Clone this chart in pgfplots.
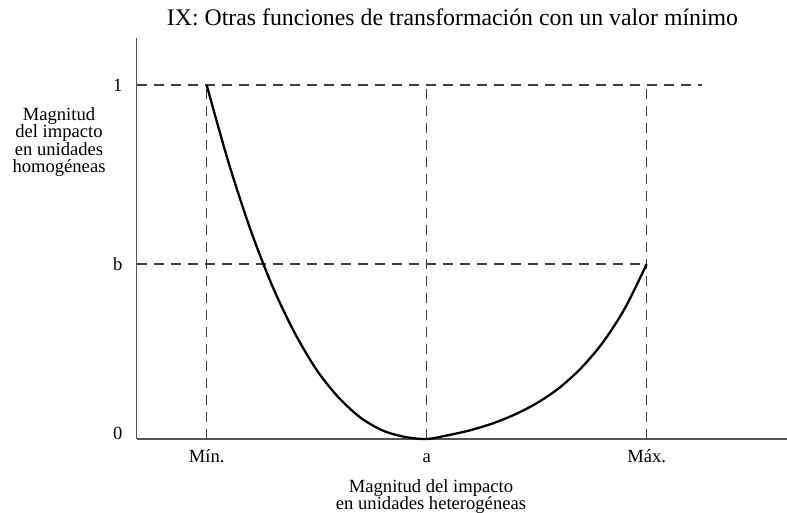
\documentclass[border=0pt]{standalone}
\usepackage{pgfplots}
\pgfplotsset{compat=1.18}
\usepackage{fontspec}
\setmainfont{Liberation Serif}
\definecolor{dashgray}{HTML}{404040}
\definecolor{axgray}{HTML}{555555}
\begin{document}
\begin{tikzpicture}
\useasboundingbox (0,0) rectangle (787bp,513bp);
\begin{axis}[
  at={(136.7bp,74bp)}, anchor=south west,
  scale only axis, width=650.3bp, height=401bp,
  xmin=0.682, xmax=3.638, ymin=0, ymax=1.1328,
  axis x line*=bottom, axis y line*=left,
  axis line style={-, color=axgray, line width=1.4bp},
  major tick length=0pt,
  xtick={1,2,3}, xticklabels={Mín.,a,Máx.},
  ytick={0.494,1}, yticklabels={b,1},
  extra y ticks={0}, extra y tick labels={0},
  extra y tick style={yticklabel style={yshift=5bp}},
  tick label style={font=\fontsize{18.6bp}{20bp}\selectfont, inner sep=0pt},
  xticklabel style={anchor=base, yshift=-24bp},
  yticklabel style={anchor=base east, xshift=-14bp, yshift=-6bp},
  clip=false,
]
\addplot[dashgray, line width=1.3bp, dash pattern=on 10bp off 7bp] coordinates {(0.682,1) (3.25,1)};
\addplot[dashgray, line width=1.3bp, dash pattern=on 10bp off 7bp] coordinates {(0.682,0.494) (3,0.494)};
\addplot[dashgray, line width=1.3bp, dash pattern=on 10bp off 7bp] coordinates {(1,0) (1,1)};
\addplot[dashgray, line width=1.3bp, dash pattern=on 10bp off 7bp] coordinates {(2,0) (2,1)};
\addplot[dashgray, line width=1.3bp, dash pattern=on 10bp off 7bp] coordinates {(3,0) (3,1)};
\addplot[black, line width=2.3bp, smooth] coordinates {
(1,1) (1.1,0.78) (1.2,0.59) (1.3,0.43) (1.4,0.30) (1.5,0.195)
(1.6,0.117) (1.7,0.060) (1.8,0.024) (1.9,0.006) (2,0)
(2.1,0.011) (2.2,0.025) (2.3,0.044) (2.4,0.069) (2.5,0.101)
(2.6,0.143) (2.7,0.199) (2.8,0.272) (2.9,0.368) (3,0.494)};
\end{axis}
\node[anchor=base, inner sep=0pt, font=\fontsize{23.8bp}{26bp}\selectfont] at (452.5bp,487bp)
  {IX: Otras funciones de transformación con un valor mínimo};
\node[align=center, inner sep=0pt, font=\fontsize{18.6bp}{17.6bp}\selectfont] at (59bp,371bp)
  {Magnitud\\del impacto\\en unidades\\homogéneas};
\node[align=center, inner sep=0pt, anchor=north, font=\fontsize{18.6bp}{17.5bp}\selectfont] at (431bp,34bp)
  {Magnitud del impacto\\en unidades heterogéneas};
\end{tikzpicture}
\end{document}
